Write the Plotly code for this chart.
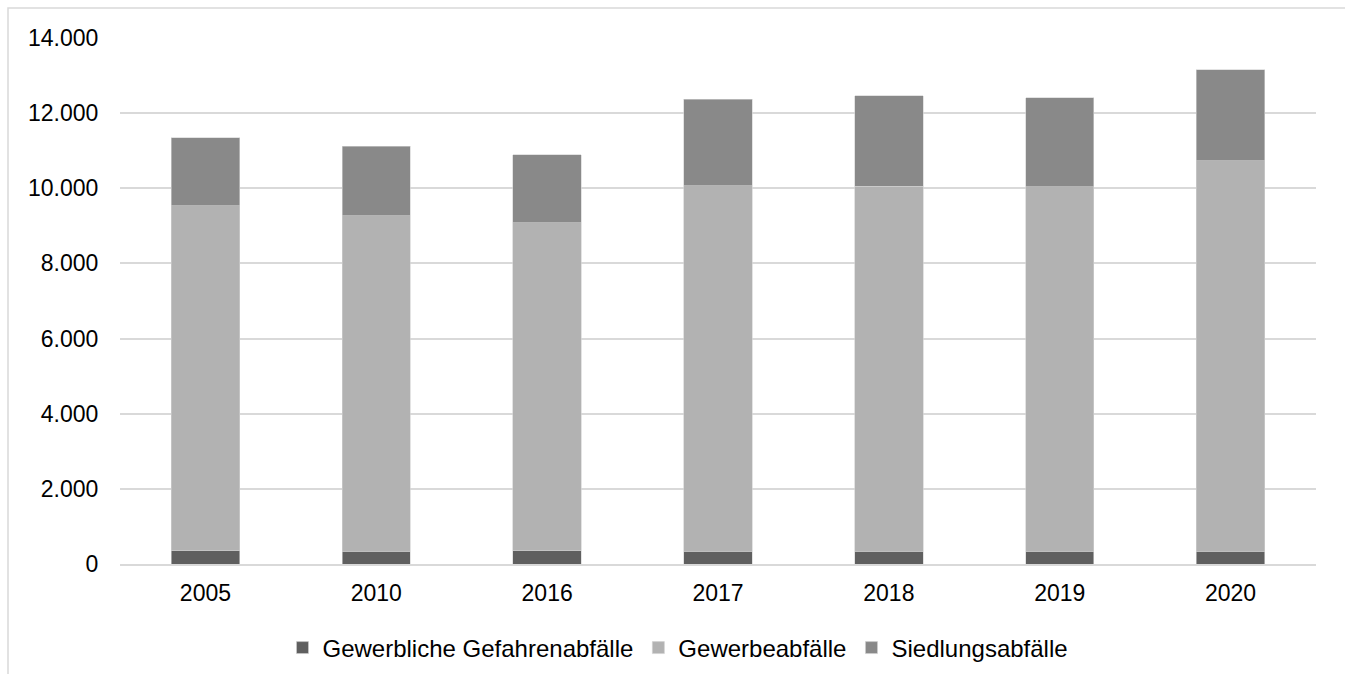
import plotly.graph_objects as go

years = ["2005", "2010", "2016", "2017", "2018", "2019", "2020"]
gefahren = [350, 335, 350, 335, 335, 335, 335]
gewerbe = [9186, 8935, 8734, 9733, 9725, 9707, 10398]
siedlung = [1809, 1854, 1809, 2306, 2402, 2367, 2421]

series = [
    ("Gewerbliche Gefahrenabfälle", gefahren, "#5f5f5f"),
    ("Gewerbeabfälle", gewerbe, "#b2b2b2"),
    ("Siedlungsabfälle", siedlung, "#898989"),
]

fig = go.Figure()
for name, vals, col in series:
    fig.add_trace(go.Bar(x=years, y=vals, name=name,
                         marker=dict(color=col, line=dict(width=0.6, color="#d0d0d0"))))

W, H = 1345, 674
l, r, t, b = 120, 29, 38, 109.5
pw, ph = W - l - r, H - t - b

fig.update_layout(
    width=W, height=H, barmode="stack", bargap=0.6,
    margin=dict(l=l, r=r, t=t, b=b, pad=0, autoexpand=False),
    paper_bgcolor="white", plot_bgcolor="white",
    separators=",.",
    font=dict(family="Liberation Sans, Arial, sans-serif", size=23, color="#000000"),
    showlegend=True,
    legend=dict(orientation="h", xref="container", yref="container",
                x=678 / W, xanchor="center",
                y=1 - 648 / H, yanchor="middle",
                font=dict(size=24), itemwidth=30, traceorder="normal",
                bgcolor="rgba(0,0,0,0)"),
    xaxis=dict(showgrid=False, showline=True, linecolor="#d9d9d9", linewidth=1.5,
               ticks="outside", ticklen=8, tickcolor="rgba(0,0,0,0)"),
    yaxis=dict(range=[0, 14000], dtick=2000, tickformat=",d",
               gridcolor="#d9d9d9", gridwidth=1.5, zeroline=False, showline=False,
               ticks="outside", ticklen=16, tickcolor="rgba(0,0,0,0)"),
)

fig.add_shape(type="rect", xref="paper", yref="paper",
              x0=(8 - l) / pw, x1=(1360 - l) / pw,
              y0=-(700 - (t + ph)) / ph, y1=((t + ph) - 8) / ph,
              line=dict(color="#d9d9d9", width=1.5), fillcolor="rgba(0,0,0,0)", layer="below")

fig.write_html("out.html")
